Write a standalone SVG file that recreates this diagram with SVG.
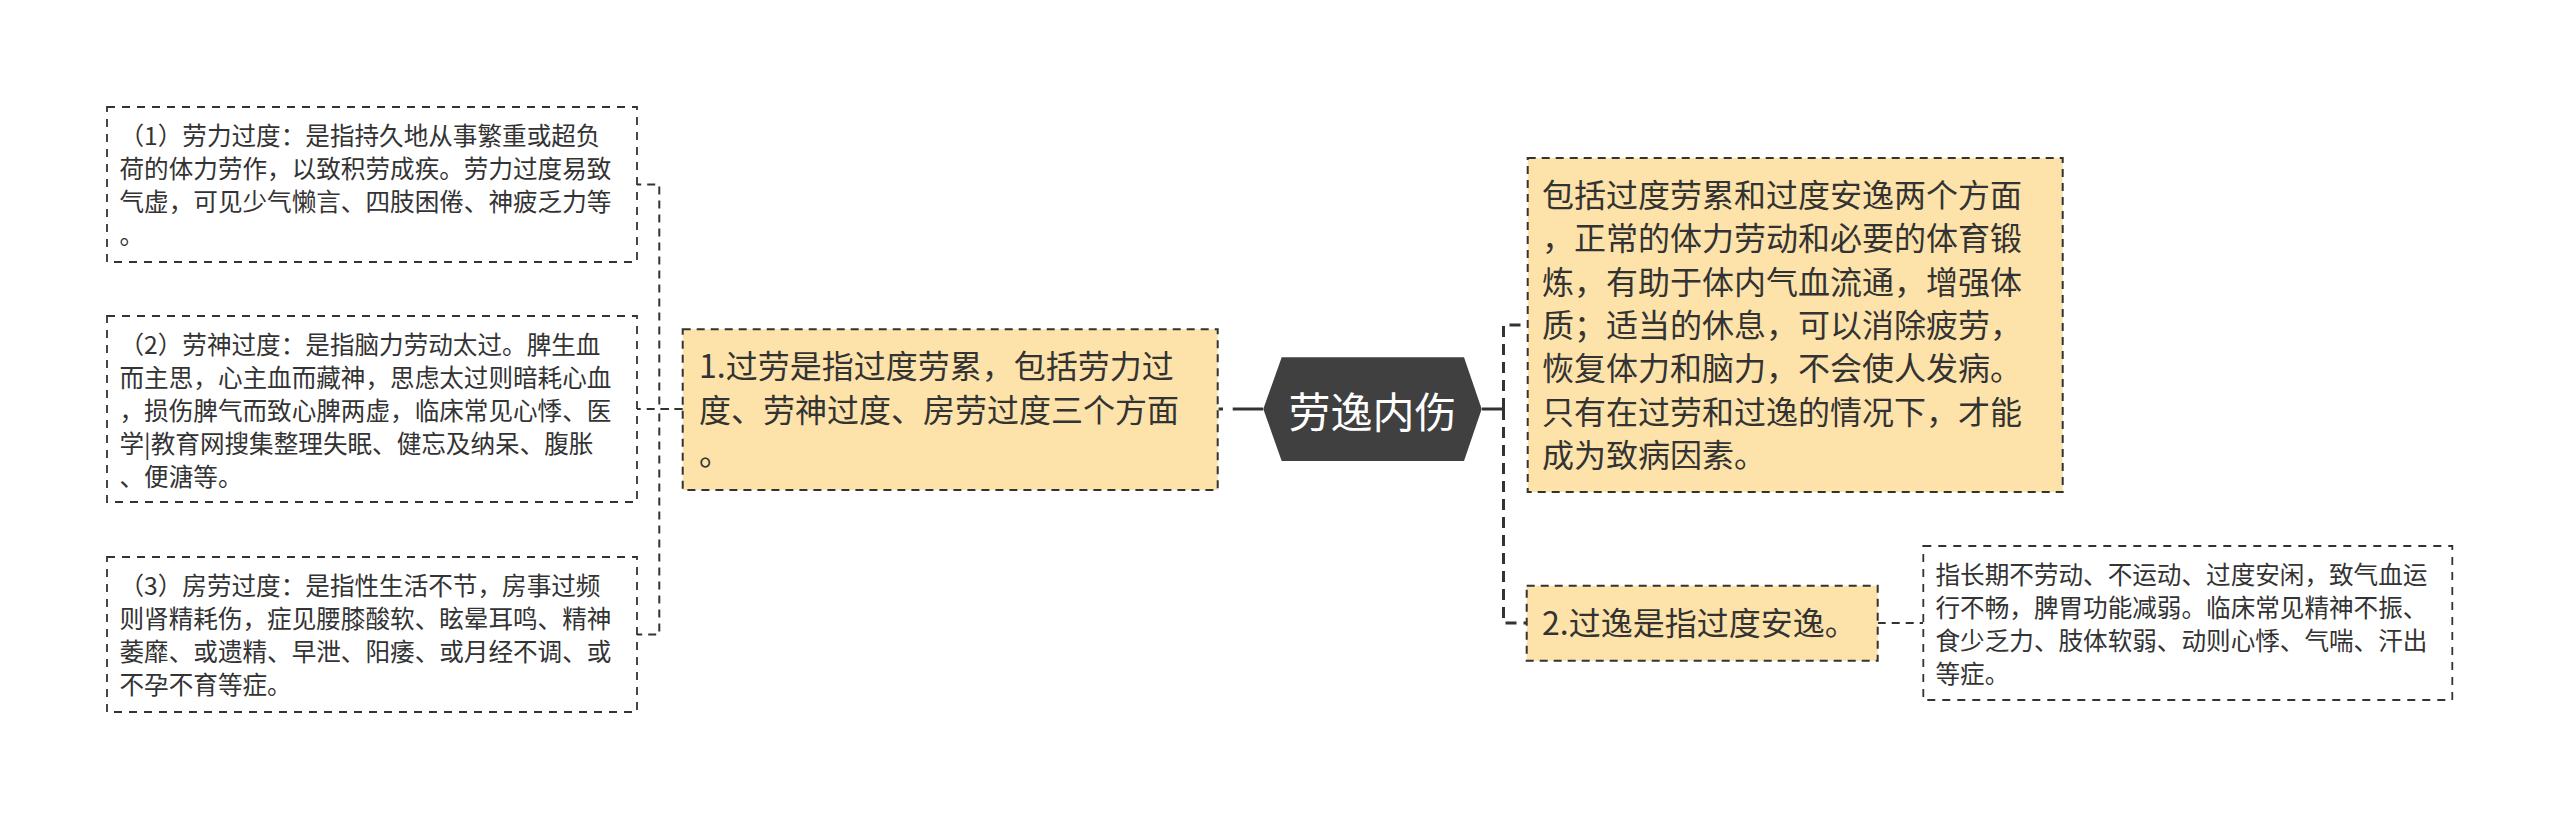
<svg xmlns="http://www.w3.org/2000/svg" width="2560" height="819" viewBox="0 0 2560 819">
<style>
.bg{fill:#ffffff}
.sbox{fill:#ffffff;stroke:#333333;stroke-width:1.8;stroke-dasharray:8 7}
.nbox{fill:#FDE3AA;stroke:#333333;stroke-width:2;stroke-dasharray:8 6}
.st{font-family:"Noto Sans CJK SC","Liberation Sans",sans-serif;font-size:24.6px;fill:#333333}
.nt{font-family:"Noto Sans CJK SC","Liberation Sans",sans-serif;font-size:32px;fill:#333333}
.ht{font-family:"Noto Sans CJK SC","Liberation Sans",sans-serif;font-size:42px;fill:#ffffff}
.cl{fill:none;stroke:#333333;stroke-width:2;stroke-dasharray:8 6}
.cr{fill:none;stroke:#333333;stroke-width:3;stroke-dasharray:11 7}
.solid{fill:none;stroke:#333333;stroke-width:3}
</style>
<rect class="bg" x="0" y="0" width="2560" height="819"/>
<g id="connectors">
  <path class="cl" d="M682.7,409 H659.3 V184.5 H637"/>
  <path class="cl" d="M682.7,409 H637"/>
  <path class="cl" d="M682.7,409 H659.3 V634.5 H637"/>
  <path class="solid" d="M1263,409 H1232.7"/>
  <path class="solid" stroke-width="3" d="M1223,409 H1218.5"/>
  <path class="solid" d="M1482,409 H1503.5"/>
  <path class="cr" d="M1503.5,409 V325 H1527.7"/>
  <path class="cr" d="M1503.5,409 V623 H1526.7"/>
  <path class="cl" d="M1877.7,623 H1923.3"/>
</g>
<g id="n1">
  <rect class="sbox" x="107" y="107" width="530" height="155"/>
  <text class="st"><tspan x="119.5" y="144.6">（1）劳力过度：是指持久地从事繁重或超负</tspan><tspan x="119.5" y="177.8">荷的体力劳作，以致积劳成疾。劳力过度易致</tspan><tspan x="119.5" y="211">气虚，可见少气懒言、四肢困倦、神疲乏力等</tspan><tspan x="119.5" y="244.2">。</tspan></text>
</g>
<g id="n2">
  <rect class="sbox" x="107" y="316" width="530" height="186"/>
  <text class="st"><tspan x="119.5" y="353.6">（2）劳神过度：是指脑力劳动太过。脾生血</tspan><tspan x="119.5" y="386.8">而主思，心主血而藏神，思虑太过则暗耗心血</tspan><tspan x="119.5" y="420">，损伤脾气而致心脾两虚，临床常见心悸、医</tspan><tspan x="119.5" y="453.2">学|教育网搜集整理失眠、健忘及纳呆、腹胀</tspan><tspan x="119.5" y="486.4">、便溏等。</tspan></text>
</g>
<g id="n3">
  <rect class="sbox" x="107" y="557" width="530" height="155"/>
  <text class="st"><tspan x="119.5" y="594.6">（3）房劳过度：是指性生活不节，房事过频</tspan><tspan x="119.5" y="627.8">则肾精耗伤，症见腰膝酸软、眩晕耳鸣、精神</tspan><tspan x="119.5" y="661">萎靡、或遗精、早泄、阳痿、或月经不调、或</tspan><tspan x="119.5" y="694.2">不孕不育等症。</tspan></text>
</g>
<g id="n4">
  <rect class="nbox" x="682.7" y="329.3" width="535" height="160.7"/>
  <text class="nt"><tspan x="699" y="378.3">1.过劳是指过度劳累，包括劳力过</tspan><tspan x="699" y="421.6">度、劳神过度、房劳过度三个方面</tspan><tspan x="699" y="464.9">。</tspan></text>
</g>
<g id="root">
  <polygon points="1263.3,409 1281.7,357.3 1464,357.3 1481.7,409 1464,461 1281.7,461" fill="#404040"/>
  <text class="ht" x="1372.5" y="428" text-anchor="middle">劳逸内伤</text>
</g>
<g id="n5">
  <rect class="nbox" x="1527.7" y="158" width="535" height="334"/>
  <text class="nt"><tspan x="1542" y="207">包括过度劳累和过度安逸两个方面</tspan><tspan x="1542" y="250.3">，正常的体力劳动和必要的体育锻</tspan><tspan x="1542" y="293.6">炼，有助于体内气血流通，增强体</tspan><tspan x="1542" y="336.9">质；适当的休息，可以消除疲劳，</tspan><tspan x="1542" y="380.2">恢复体力和脑力，不会使人发病。</tspan><tspan x="1542" y="423.5">只有在过劳和过逸的情况下，才能</tspan><tspan x="1542" y="466.8">成为致病因素。</tspan></text>
</g>
<g id="n6">
  <rect class="nbox" x="1526.7" y="585.7" width="351" height="75"/>
  <text class="nt" x="1542" y="634.7">2.过逸是指过度安逸。</text>
</g>
<g id="n7">
  <rect class="sbox" x="1923.3" y="546" width="529" height="154"/>
  <text class="st"><tspan x="1935.5" y="583.6">指长期不劳动、不运动、过度安闲，致气血运</tspan><tspan x="1935.5" y="616.8">行不畅，脾胃功能减弱。临床常见精神不振、</tspan><tspan x="1935.5" y="650">食少乏力、肢体软弱、动则心悸、气喘、汗出</tspan><tspan x="1935.5" y="683.2">等症。</tspan></text>
</g>
</svg>
